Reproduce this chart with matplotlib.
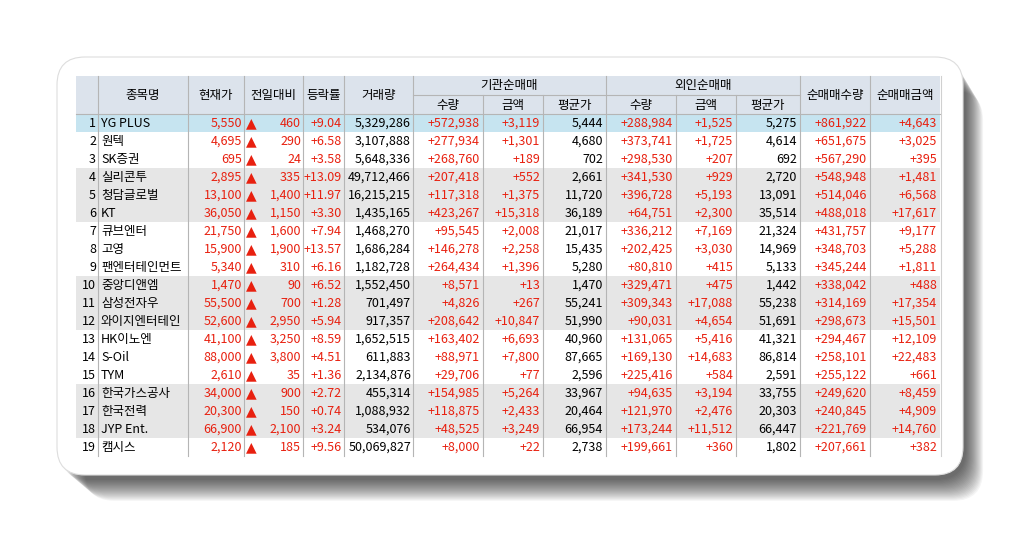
import matplotlib.pyplot as plt
from matplotlib.patches import FancyBboxPatch, Rectangle

plt.rcParams['font.family'] = ['Noto Sans CJK KR', 'DejaVu Sans']

names = ['YG PLUS', '원텍', 'SK증권', '실리콘투', '청담글로벌', 'KT', '큐브엔터', '고영',
         '팬엔터테인먼트', '중앙디앤엠', '삼성전자우', '와이지엔터테인', 'HK이노엔', 'S-Oil',
         'TYM', '한국가스공사', '한국전력', 'JYP Ent.', '캠시스']
price = [5550, 4695, 695, 2895, 13100, 36050, 21750, 15900, 5340, 1470, 55500, 52600,
         41100, 88000, 2610, 34000, 20300, 66900, 2120]
change = [460, 290, 24, 335, 1400, 1150, 1600, 1900, 310, 90, 700, 2950, 3250, 3800,
          35, 900, 150, 2100, 185]
rate = [9.04, 6.58, 3.58, 13.09, 11.97, 3.30, 7.94, 13.57, 6.16, 6.52, 1.28, 5.94,
        8.59, 4.51, 1.36, 2.72, 0.74, 3.24, 9.56]
volume = [5329286, 3107888, 5648336, 49712466, 16215215, 1435165, 1468270, 1686284,
          1182728, 1552450, 701497, 917357, 1652515, 611883, 2134876, 455314, 1088932,
          534076, 50069827]
inst_qty = [572938, 277934, 268760, 207418, 117318, 423267, 95545, 146278, 264434, 8571,
            4826, 208642, 163402, 88971, 29706, 154985, 118875, 48525, 8000]
inst_amt = [3119, 1301, 189, 552, 1375, 15318, 2008, 2258, 1396, 13, 267, 10847, 6693,
            7800, 77, 5264, 2433, 3249, 22]
inst_avg = [5444, 4680, 702, 2661, 11720, 36189, 21017, 15435, 5280, 1470, 55241, 51990,
            40960, 87665, 2596, 33967, 20464, 66954, 2738]
frgn_qty = [288984, 373741, 298530, 341530, 396728, 64751, 336212, 202425, 80810, 329471,
            309343, 90031, 131065, 169130, 225416, 94635, 121970, 173244, 199661]
frgn_amt = [1525, 1725, 207, 929, 5193, 2300, 7169, 3030, 415, 475, 17088, 4654, 5416,
            14683, 584, 3194, 2476, 11512, 360]
frgn_avg = [5275, 4614, 692, 2720, 13091, 35514, 21324, 14969, 5133, 1442, 55238, 51691,
            41321, 86814, 2591, 33755, 20303, 66447, 1802]
net_qty = [861922, 651675, 567290, 548948, 514046, 488018, 431757, 348703, 345244, 338042,
           314169, 298673, 294467, 258101, 255122, 249620, 240845, 221769, 207661]
net_amt = [4643, 3025, 395, 1481, 6568, 17617, 9177, 5288, 1811, 488, 17354, 15501, 12109,
           22483, 661, 8459, 4909, 14760, 382]

RED = '#e8200f'
# column edges (pixels)
edges = [76, 98, 188, 244, 303, 344, 413, 483, 543, 606, 676, 736, 800, 870, 940]
top, mid, hdr = 76, 95, 114
rh = 18

fig = plt.figure(figsize=(10.34, 5.47), dpi=100)
ax = fig.add_axes([0, 0, 1, 1])
ax.set_xlim(0, 1034)
ax.set_ylim(547, 0)
ax.axis('off')

# soft shadow, darker toward bottom-right
for i in range(20):
    ax.add_patch(FancyBboxPatch((60 + i * 1.3, 62 + i * 1.5), 906 - i * 0.4, 418 - i * 0.4,
                                boxstyle='round,pad=0,rounding_size=30',
                                fc='black', ec='none', alpha=0.04))
ax.add_patch(FancyBboxPatch((57, 57), 906, 418, boxstyle='round,pad=0,rounding_size=28',
                            fc='white', ec='#dddddd', lw=0.8))

# header
ax.add_patch(Rectangle((edges[0], top), edges[-1] - edges[0], hdr - top, fc='#dce3ec', ec='none'))
fs = 9
for i, t in enumerate(['종목명', '현재가', '전일대비', '등락률', '거래량']):
    ax.text((edges[i + 1] + edges[i + 2]) / 2, (top + hdr) / 2, t, ha='center', va='center', fontsize=fs)
ax.text((edges[6] + edges[9]) / 2, (top + mid) / 2, '기관순매매', ha='center', va='center', fontsize=fs)
ax.text((edges[9] + edges[12]) / 2, (top + mid) / 2, '외인순매매', ha='center', va='center', fontsize=fs)
ax.text((edges[12] + edges[13]) / 2, (top + hdr) / 2, '순매매수량', ha='center', va='center', fontsize=fs)
ax.text((edges[13] + edges[14]) / 2, (top + hdr) / 2, '순매매금액', ha='center', va='center', fontsize=fs)
for j, t in enumerate(['수량', '금액', '평균가', '수량', '금액', '평균가']):
    ax.text((edges[6 + j] + edges[7 + j]) / 2, (mid + hdr) / 2 + 1, t, ha='center', va='center', fontsize=fs)
ax.plot([edges[6], edges[12]], [mid, mid], color='#b5b5b5', lw=0.8)

# row backgrounds
for r in range(len(names)):
    y0 = hdr + r * rh
    if r == 0:
        fc = '#c6e4f0'
    elif (r // 3) % 2 == 1:
        fc = '#e6e6e6'
    else:
        fc = 'white'
    ax.add_patch(Rectangle((edges[0], y0), edges[-1] - edges[0], rh, fc=fc, ec='none'))

bottom = hdr + len(names) * rh
# grid lines
for k, x in enumerate(edges[1:-1], start=1):
    y_start = mid if k in (7, 8, 10, 11) else top
    ax.plot([x, x], [y_start, bottom], color='#b5b5b5', lw=0.8)
ax.plot([edges[-1] + 1, edges[-1] + 1], [top, bottom], color='#d0d0d0', lw=0.8)
ax.plot([edges[0], edges[-1]], [hdr, hdr], color='#b5b5b5', lw=0.8)

def fmt(v, sign=False):
    s = f'{v:,}'
    return '+' + s if sign else s

for r in range(len(names)):
    yc = hdr + r * rh + rh / 2 + 0.5
    ax.text(edges[1] - 2, yc, str(r + 1), ha='right', va='center', fontsize=fs)
    ax.text(edges[1] + 3, yc, names[r], ha='left', va='center', fontsize=fs)
    ax.text(edges[3] - 2, yc, fmt(price[r]), ha='right', va='center', fontsize=fs, color=RED)
    ax.text(edges[3] + 2, yc, '▲', ha='left', va='center', fontsize=10, color=RED, family='DejaVu Sans')
    ax.text(edges[4] - 2, yc, fmt(change[r]), ha='right', va='center', fontsize=fs, color=RED)
    ax.text(edges[5] - 2, yc, f'+{rate[r]:.2f}', ha='right', va='center', fontsize=fs, color=RED)
    ax.text(edges[6] - 2, yc, fmt(volume[r]), ha='right', va='center', fontsize=fs)
    cols = [(inst_qty, True), (inst_amt, True), (inst_avg, False),
            (frgn_qty, True), (frgn_amt, True), (frgn_avg, False),
            (net_qty, True), (net_amt, True)]
    for j, (arr, sg) in enumerate(cols):
        ax.text(edges[7 + j] - 3, yc, fmt(arr[r], sg), ha='right', va='center', fontsize=fs,
                color=RED if sg else 'black')

fig.savefig('out.png', dpi=100)
